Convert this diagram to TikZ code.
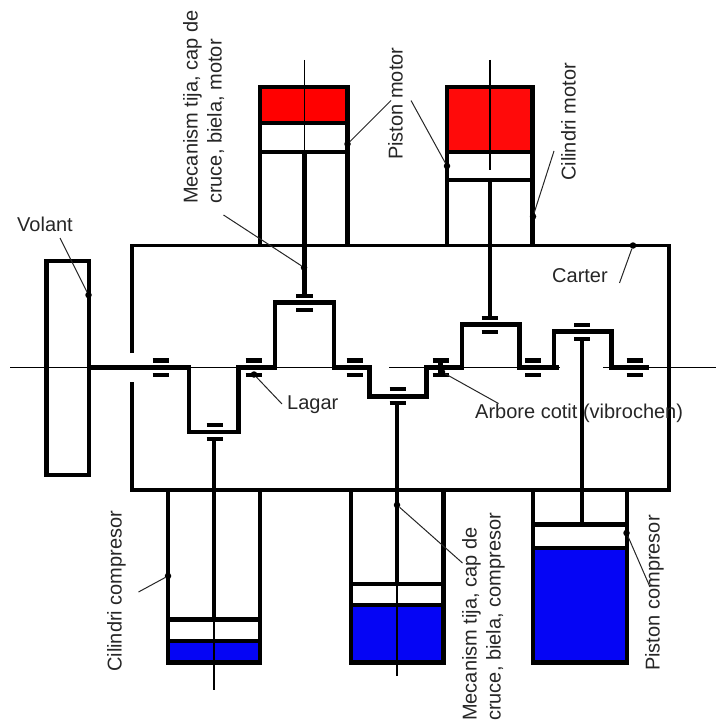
\documentclass[tikz,border=0pt]{standalone}
\usepackage{fontspec}
\setmainfont{Liberation Sans}
\definecolor{motorred}{RGB}{255,10,10}
\definecolor{comprblue}{RGB}{5,5,245}
\tikzset{
  thick line/.style={line width=4.8pt},
  case line/.style={line width=3.8pt},
  thin line/.style={line width=1.1pt},
  leader/.style={line width=1pt, black!85},
  leaderdot/.style={circle, fill=black, inner sep=0pt, minimum size=6.5pt},
  labeltext/.style={font=\fontsize{20}{24}\selectfont, inner sep=0pt, text=black!85},
  sidetext/.style={labeltext, rotate=90, anchor=north west, align=left}
}
\begin{document}
\begin{tikzpicture}[x=1pt, y=-1pt]
  \useasboundingbox (0, 0) rectangle (716, 722);

  % fluid spaces
  \fill[red] (260, 87) rectangle (347.5, 123);
  \fill[motorred] (447, 87) rectangle (532.5, 152);
  \fill[comprblue] (168, 641) rectangle (260, 662);
  \fill[comprblue] (351, 605) rectangle (443, 662);
  \fill[comprblue] (533, 548) rectangle (627, 662);

  % axis and cylinder centre lines
  \draw[thin line] (10, 367.5) -- (370, 367.5);
  \draw[thin line] (389, 367.5) -- (560, 367.5);
  \draw[thin line] (603, 367.5) -- (716, 367.5);
  \draw[thin line] (304.5, 60) -- (304.5, 152);
  \draw[thin line] (490, 60) -- (490, 170);
  \draw[thin line] (214, 620) -- (214, 690);
  \draw[thin line] (397, 584) -- (397, 676);

  % carter
  \draw[case line] (132, 353) -- (132, 245.5) -- (669, 245.5) -- (669, 490) -- (132, 490) -- (132, 382);

  % volant
  \draw[thick line] (46.5, 261) rectangle (89, 475);

  % crankshaft
  \draw[thick line] (89, 367.5) -- ++(100, 0) -- ++(0, 64.5) -- ++(49.5, 0) -- ++(0, -64.5) -- ++(36.5, 0) -- ++(0, -65) -- ++(59, 0) -- ++(0, 65) -- ++(35.5, 0) -- ++(0, 29) -- ++(57, 0) -- ++(0, -29) -- ++(35.5, 0) -- ++(0, -43) -- ++(57.5, 0) -- ++(0, 43) -- ++(39, 0);
  \draw[thick line] (554, 369.7) -- ++(0, -38) -- ++(57.5, 0) -- ++(0, 35.8) -- ++(37, 0);

  % bearings on the shaft
  \draw[thick line] (152.5, 360.5) -- ++(16, 0);
  \draw[thick line] (152.5, 375) -- ++(16, 0);
  \draw[thick line] (245.5, 360.5) -- ++(16, 0);
  \draw[thick line] (245.5, 375) -- ++(16, 0);
  \draw[thick line] (346.5, 360.5) -- ++(16, 0);
  \draw[thick line] (346.5, 375) -- ++(16, 0);
  \draw[thick line] (432.5, 360.5) -- ++(16, 0);
  \draw[thick line] (432.5, 375) -- ++(16, 0);
  \draw[thick line] (440.5, 360.5) -- ++(0, 14.5);
  \draw[thick line] (525, 360.5) -- ++(16, 0);
  \draw[thick line] (525, 375) -- ++(16, 0);
  \draw[thick line] (626.5, 360.5) -- ++(16, 0);
  \draw[thick line] (626.5, 375) -- ++(16, 0);

  % bearings on the crank pins
  \draw[thick line] (206.5, 425) -- ++(16, 0);
  \draw[thick line] (206.5, 439) -- ++(16, 0);
  \draw[thick line] (296, 296) -- ++(17, 0);
  \draw[thick line] (296, 310) -- ++(17, 0);
  \draw[thick line] (389.5, 389) -- ++(16, 0);
  \draw[thick line] (389.5, 403) -- ++(16, 0);
  \draw[thick line] (481.5, 318) -- ++(16, 0);
  \draw[thick line] (481.5, 332) -- ++(16, 0);
  \draw[thick line] (574, 325) -- ++(16, 0);
  \draw[thick line] (574, 339) -- ++(16, 0);

  % motor cylinders
  \draw[thick line] (260, 245) -- ++(0, -158) -- ++(87.5, 0) -- ++(0, 158);
  \draw[thick line] (260, 123) -- ++(87.5, 0);
  \draw[thick line] (260, 152) -- ++(87.5, 0);
  \draw[thick line] (304.5, 152) -- (304.5, 296);
  \draw[thick line] (447, 245) -- ++(0, -158) -- ++(85.5, 0) -- ++(0, 158);
  \draw[thick line] (447, 152) -- ++(85.5, 0);
  \draw[thick line] (447, 180) -- ++(85.5, 0);
  \draw[thick line] (490, 180) -- (490, 318);

  % compressor cylinders
  \draw[thick line] (168, 490) -- ++(0, 172.5) -- ++(92, 0) -- ++(0, -172.5);
  \draw[thick line] (168, 619.5) -- ++(92, 0);
  \draw[thick line] (168, 641) -- ++(92, 0);
  \draw[thick line] (214, 439) -- (214, 619.5);
  \draw[thick line] (351, 490) -- ++(0, 172.5) -- ++(92.5, 0) -- ++(0, -172.5);
  \draw[thick line] (351, 584) -- ++(92.5, 0);
  \draw[thick line] (351, 605) -- ++(92.5, 0);
  \draw[thick line] (397, 403) -- (397, 584);
  \draw[thick line] (533, 490) -- ++(0, 172.5) -- ++(94, 0) -- ++(0, -172.5);
  \draw[thick line] (533, 524.5) -- ++(94, 0);
  \draw[thick line] (533, 548) -- ++(94, 0);
  \draw[thick line] (582, 339) -- (582, 524.5);

  % labels
  \node[labeltext, anchor=west] (volant) at (17, 224) {Volant};
  \node[labeltext, anchor=west] (carter) at (552, 276) {Carter};
  \node[labeltext, anchor=west] (lagar) at (287, 405) {Lagar};
  \node[labeltext, anchor=west] (arbore) at (475, 413) {Arbore cotit (vibrochen)};
  \node[sidetext] (mecmotor) at (183, 204) {Mecanism tija, cap de\\cruce, biela, motor};
  \node[sidetext] (pistmotor1) at (388, 160) {Piston motor};
  \node[sidetext] (cilmotor) at (561, 181) {Cilindri motor};
  \node[sidetext] (cilcompr) at (107, 672) {Cilindri compresor};
  \node[sidetext] (meccompr) at (462, 721) {Mecanism tija, cap de\\cruce, biela, compresor};
  \node[sidetext] (pistcompr) at (645, 671) {Piston compresor};

  % leaders
  \node[leaderdot] (volantdot) at (88.5, 295) {};
  \node[leaderdot] (mecmotordot) at (304, 267.5) {};
  \node[leaderdot] (pistmotordot1) at (347.5, 144) {};
  \node[leaderdot] (pistmotordot2) at (447, 166) {};
  \node[leaderdot] (cilmotordot) at (533, 216.5) {};
  \node[leaderdot] (carterdot) at (633, 245.5) {};
  \node[leaderdot] (lagardot) at (254, 374.5) {};
  \node[leaderdot] (arboredot) at (442, 372) {};
  \node[leaderdot] (cilcomprdot) at (168, 576) {};
  \node[leaderdot] (meccomprdot) at (397, 505) {};
  \node[leaderdot] (pistcomprdot) at (626.5, 533) {};
  \coordinate (volantend) at (60, 238);
  \coordinate (mecmotorend) at (223.5, 215);
  \coordinate (pistmotorend1) at (391, 100.5);
  \coordinate (pistmotorend2) at (411, 100.5);
  \coordinate (cilmotorend) at (554, 151);
  \coordinate (carterend) at (619.5, 283);
  \coordinate (lagarend) at (282, 404);
  \coordinate (arboreend) at (498.5, 403.5);
  \coordinate (cilcomprend) at (138.5, 592);
  \coordinate (meccomprend) at (462.5, 563);
  \coordinate (pistcomprend) at (650, 587);
  \draw[leader] (volantend) -- (volantdot);
  \draw[leader] (mecmotorend) -- (mecmotordot);
  \draw[leader] (pistmotorend1) -- (pistmotordot1);
  \draw[leader] (pistmotorend2) -- (pistmotordot2);
  \draw[leader] (cilmotorend) -- (cilmotordot);
  \draw[leader] (carterend) -- (carterdot);
  \draw[leader] (lagarend) -- (lagardot);
  \draw[leader] (arboreend) -- (arboredot);
  \draw[leader] (cilcomprend) -- (cilcomprdot);
  \draw[leader] (meccomprend) -- (meccomprdot);
  \draw[leader] (pistcomprend) -- (pistcomprdot);
\end{tikzpicture}
\end{document}
